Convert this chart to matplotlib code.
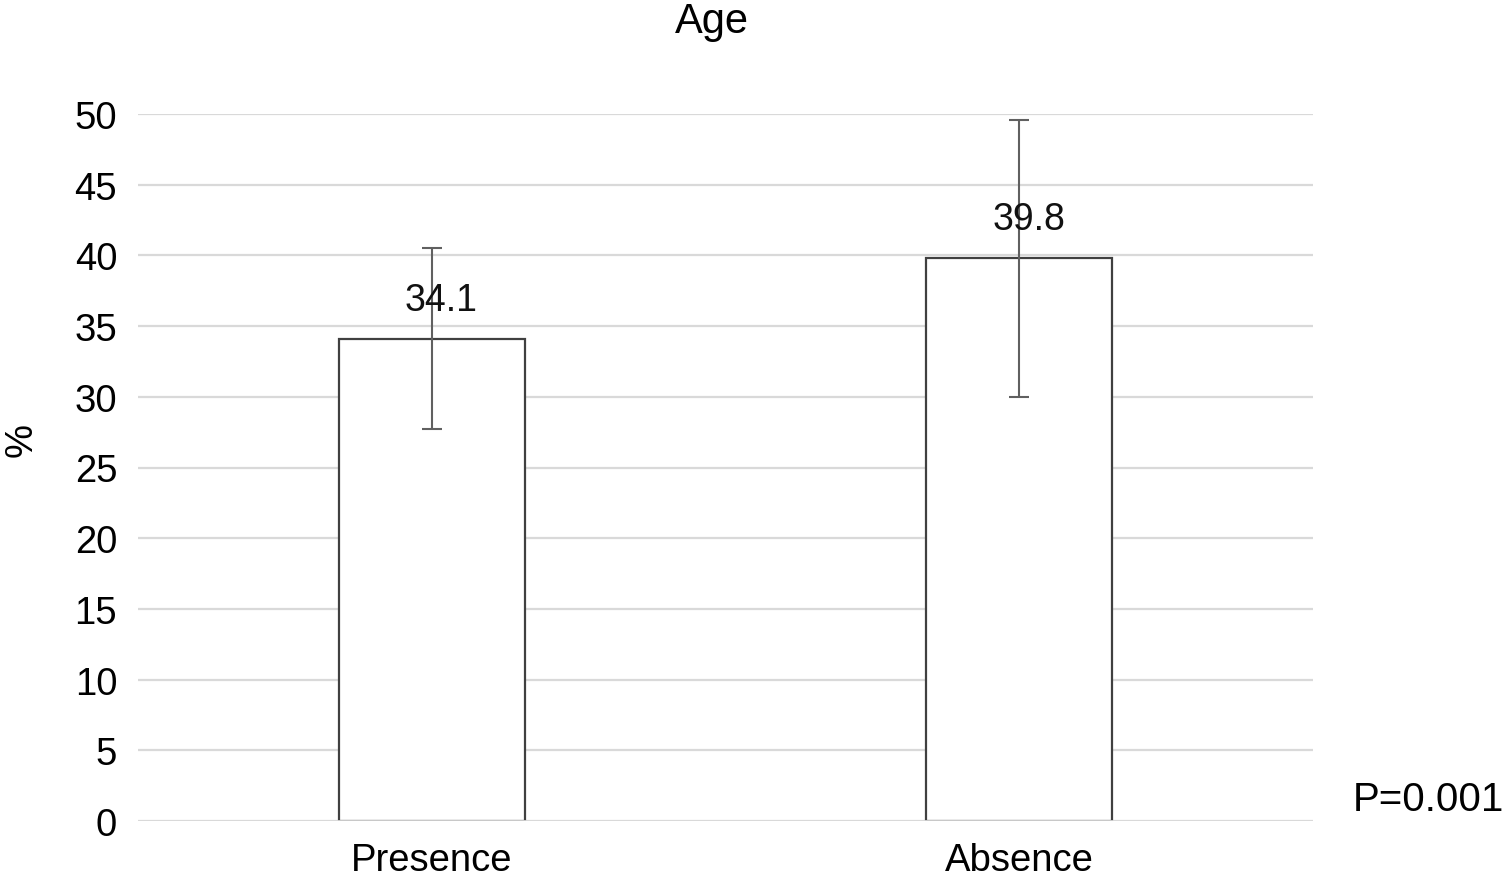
import matplotlib.pyplot as plt

plt.rcParams["font.family"] = ["Liberation Sans", "DejaVu Sans"]

# data
categories = ["Presence", "Absence"]
values = [34.1, 39.8]
errors = [6.4, 9.8]
y_ticks = [0, 5, 10, 15, 20, 25, 30, 35, 40, 45, 50]

fig = plt.figure(figsize=(15.05, 8.79), dpi=100)
ax = fig.add_axes([138 / 1505, 1 - 822 / 879, (1313 - 138) / 1505, (822 - 115) / 879])

x = list(range(len(categories)))
ax.bar(x, values, width=0.317, color="white", edgecolor="#404040", linewidth=1.6, zorder=3)
ax.axhline(0, color="#d9d9d9", linewidth=2, zorder=3.5)
ax.errorbar(x, values, yerr=errors, fmt="none", ecolor="#606060",
            elinewidth=1.5, capsize=7, capthick=1.5, zorder=4)

for xi, v in zip(x, values):
    ax.annotate(f"{v}", (xi, v), xytext=(7, 15), textcoords="offset points",
                ha="center", va="bottom", fontsize=27, color="#111111", zorder=5)

ax.set_xlim(-0.5, 1.5)
ax.set_ylim(0, 50)
ax.set_yticks(y_ticks)
ax.set_xticks(x)
ax.set_xticklabels(categories)
ax.yaxis.grid(True, color="#d9d9d9", linewidth=1.6, zorder=0)
ax.set_axisbelow(True)
for s in ax.spines.values():
    s.set_visible(False)
ax.tick_params(axis="y", length=0, pad=15, labelsize=27.5)
ax.tick_params(axis="x", length=0, pad=15, labelsize=27.5)

fig.text(22 / 1505, 1 - 440 / 879, "%", rotation=90, ha="center", va="center", fontsize=27.5)
fig.text(712 / 1505, 1 - 22 / 879, "Age", ha="center", va="center", fontsize=30)
fig.text(1353 / 1505, 1 - 800 / 879, "P=0.001", ha="left", va="center", fontsize=29)

fig.savefig("out.png", dpi=100)
